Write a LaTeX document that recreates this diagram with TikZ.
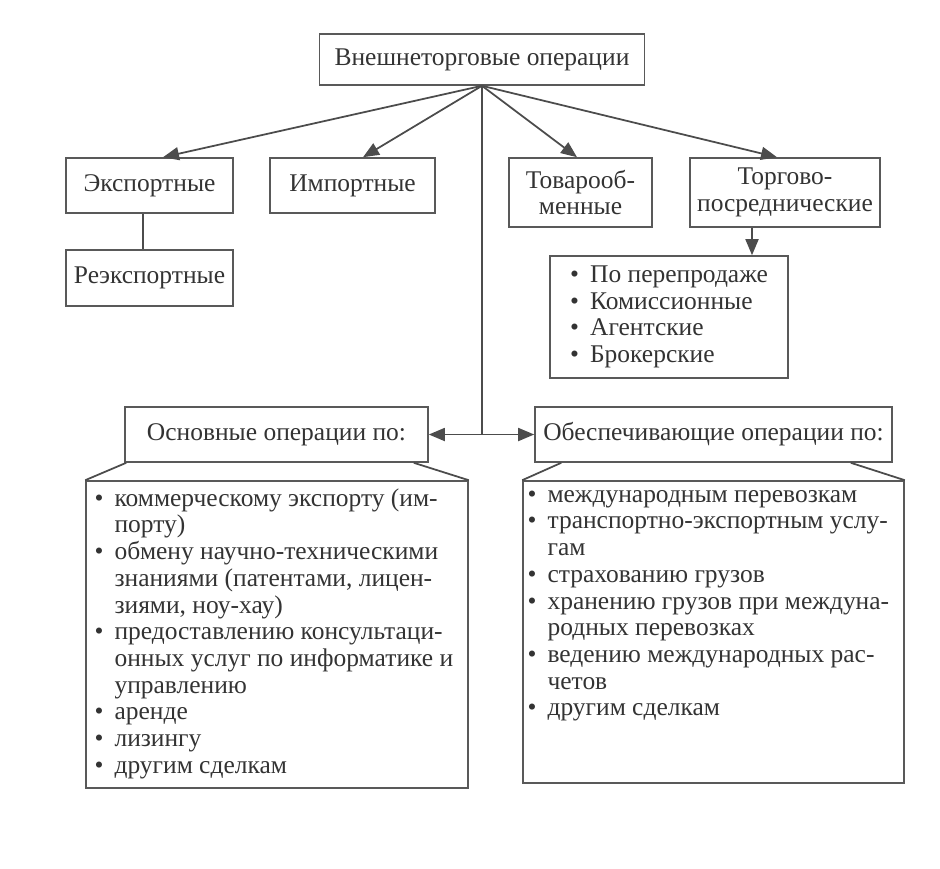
\documentclass[tikz,border=0pt]{standalone}
\usepackage{fontspec}
\setmainfont{Liberation Serif}
\usepackage{tikz}
\usetikzlibrary{arrows.meta}

\newcommand{\bul}{\makebox[4mm][l]{\textbullet}}
\newcommand{\ind}{\hspace*{4mm}}

\begin{document}
\begin{tikzpicture}[x=0.2mm, y=-0.2mm,
    font=\fontsize{14.5pt}{15.2pt}\selectfont,
    opbox/.style={draw=black!65, line width=0.9pt, text=black!80, align=center, inner sep=0pt},
    conn/.style={draw=black!70, line width=1pt},
    arr/.style={conn, -{Triangle[length=3.2mm, width=2.6mm]}},
    listtext/.style={text=black!80, align=left, inner sep=0pt, anchor=north west}]
    \useasboundingbox (0,0) rectangle (940,868);

    % Top box
    \node[opbox, minimum width=65mm, minimum height=10.2mm] (top) at (482,59.5) {Внешнеторговые операции};

    % Kinds of operations
    \node[opbox, minimum width=33.4mm, minimum height=11mm] (exp) at (149.5,185.5) {Экспортные};
    \node[opbox, minimum width=33mm, minimum height=11mm] (imp) at (352.5,185.5) {Импортные};
    \node[opbox, minimum width=28.6mm, minimum height=13.8mm] (tov) at (580.5,192.5) {Товарооб-\\менные};
    \node[opbox, minimum width=38mm, minimum height=13.8mm] (torg) at (785,192.5) {Торгово-\\посреднические};
    \node[opbox, minimum width=33.4mm, minimum height=11.2mm] (reexp) at (149.5,278) {Реэкспортные};

    % Intermediary operations
    \node[opbox, align=left, minimum width=47.6mm, minimum height=24.4mm] (list) at (669,317) {
        \bul По перепродаже\\
        \bul Комиссионные\\
        \bul Агентские\\
        \bul Брокерские};

    % Two groups
    \node[opbox, minimum width=60.6mm, minimum height=11mm] (osn) at (276.5,434.5) {Основные операции по:};
    \node[opbox, minimum width=71.4mm, minimum height=11mm] (obes) at (713.5,434.5) {Обеспечивающие операции по:};
    \node[opbox, minimum width=76.4mm, minimum height=61.4mm] (lbig) at (277,634.5) {};
    \node[opbox, minimum width=76.2mm, minimum height=60.4mm] (rbig) at (713.5,632) {};

    \node[listtext] (ltext) at ([xshift=1.8mm, yshift=-1.4mm]lbig.north west) {
        \bul\strut коммерческому экспорту (им-\\
        \ind порту)\\
        \bul обмену научно-техническими\\
        \ind знаниями (патентами, лицен-\\
        \ind зиями, ноу-хау)\\
        \bul предоставлению консультаци-\\
        \ind онных услуг по информатике и\\
        \ind управлению\\
        \bul аренде\\
        \bul лизингу\\
        \bul другим сделкам};
    \node[listtext] (rtext) at ([xshift=1mm, yshift=-0.6mm]rbig.north west) {
        \bul\strut международным перевозкам\\
        \bul транспортно-экспортным услу-\\
        \ind гам\\
        \bul страхованию грузов\\
        \bul хранению грузов при междуна-\\
        \ind родных перевозках\\
        \bul ведению международных рас-\\
        \ind четов\\
        \bul другим сделкам};

    % Arrows from the top box
    \draw[arr] (top.south) -- ([xshift=2.7mm]exp.north);
    \draw[arr] (top.south) -- ([xshift=2.1mm]imp.north);
    \draw[arr] (top.south) -- ([xshift=-0.7mm]tov.north);
    \draw[arr] (top.south) -- ([xshift=-1.6mm]torg.north);

    % Trunk down to the two groups
    \coordinate (mid) at (482,434.5);
    \draw[conn] (top.south) -- (mid);
    \draw[arr] (mid) -- (osn.east);
    \draw[arr] (mid) -- (obes.west);

    % Export -- re-export, intermediary -- list
    \draw[conn] ([xshift=-1.3mm]exp.south) -- ([xshift=-1.3mm]reexp.north);
    \draw[arr] ([xshift=-6.6mm]torg.south) coordinate (tp) -- (tp |- list.north);

    % Slanted joins under the group headers
    \draw[conn] ([xshift=0.4mm]osn.south west) -- (lbig.north west);
    \draw[conn] ([xshift=-3mm]osn.south east) -- (lbig.north east);
    \draw[conn] ([xshift=5.4mm]obes.south west) -- (rbig.north west);
    \draw[conn] ([xshift=-8.4mm]obes.south east) -- (rbig.north east);
\end{tikzpicture}
\end{document}
